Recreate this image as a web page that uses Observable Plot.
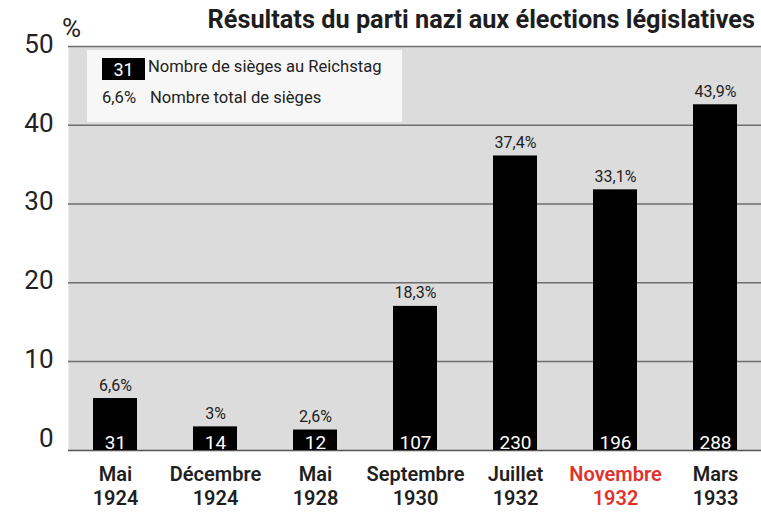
<!DOCTYPE html>
<html>
<head>
<meta charset="utf-8">
<script src="https://cdn.jsdelivr.net/npm/d3@7"></script>
<script src="https://cdn.jsdelivr.net/npm/@observablehq/plot@0.6"></script>
<style>
  html, body { margin: 0; padding: 0; background: #fff; }
  #wrap { position: relative; width: 761px; height: 519px; font-family: Roboto, "Noto Sans", sans-serif; color: #1f1f1f; }
  #wrap svg { position: absolute; left: 0; top: 0; }
  .title { position: absolute; right: 6px; top: 5px; font-size: 25.3px; font-weight: bold; white-space: nowrap; color: #1e1e1e; }
  .pct { position: absolute; left: 62px; top: 13px; font-size: 26px; color: #222; }
  .legend { position: absolute; left: 87px; top: 50px; width: 315px; height: 72px; background: #f7f7f7; }
  .swatch { position: absolute; left: 15px; top: 8px; width: 43px; height: 22px; background: #000; color: #fff; font-size: 18px; line-height: 24px; text-align: center; }
  .lt { position: absolute; font-size: 16.6px; color: #222; white-space: nowrap; }
</style>
</head>
<body>
<div id="wrap"></div>
<script>
const categories = ["Mai 1924", "Décembre 1924", "Mai 1928", "Septembre 1930", "Juillet 1932", "Novembre 1932", "Mars 1933"];
const voteShare = [6.6, 3, 2.6, 18.3, 37.4, 33.1, 43.9];
const seats = [31, 14, 12, 107, 230, 196, 288];
const yTickLabels = [0, 10, 20, 30, 40, 50];
const highlighted = "Novembre 1932";
const titleText = "Résultats du parti nazi aux élections législatives";
const legendSeats = "Nombre de sièges au Reichstag";
const legendShare = "Nombre total de sièges";
const gridShift = 1.3; // the original's grid sits slightly above the bar baseline

const fmtPct = v => String(v).replace(".", ",") + "%";
const data = categories.map((c, i) => ({cat: c, pct: voteShare[i], seats: seats[i]}));

const chart = Plot.plot({
  width: 761,
  height: 519,
  marginTop: 46,
  marginBottom: 69,
  marginLeft: 68,
  marginRight: 0,
  style: {fontFamily: "Roboto, 'Noto Sans', sans-serif", background: "transparent"},
  x: {domain: categories, range: [65, 765], paddingInner: 0.56, paddingOuter: 0.28, axis: null},
  y: {domain: [0, 50 + gridShift], axis: null},
  marks: [
    Plot.frame({fill: "#dcdcdc", stroke: "none"}),
    Plot.ruleY(yTickLabels.filter(t => t > 0), {y: t => t + gridShift, stroke: "#6e6e6e", strokeWidth: 1.6}),
    Plot.ruleY([0], {stroke: "#555", strokeWidth: 1.6}),
    Plot.barY(data, {x: "cat", y: "pct", fill: "#000"}),
    Plot.text(data, {x: "cat", y: "pct", text: d => fmtPct(d.pct), lineAnchor: "bottom", dy: -8, fontSize: 16, fill: "#222"}),
    Plot.text(data, {x: "cat", y: 0, text: d => String(d.seats), lineAnchor: "bottom", dy: -2, fontSize: 19, fill: "#fff"}),
    Plot.text(data, {x: "cat", text: d => d.cat.replace(" ", "\n"), frameAnchor: "bottom", lineAnchor: "top", dy: 13, fontSize: 20, fontWeight: 600, lineHeight: 1.2, fill: d => d.cat === highlighted ? "#e2322b" : "#1f1f1f"}),
    Plot.text(yTickLabels, {y: t => t + gridShift, text: t => String(t), frameAnchor: "left", textAnchor: "end", dx: -15, dy: -2, fontSize: 26, fill: "#222"})
  ]
});

const wrap = document.getElementById("wrap");
wrap.appendChild(chart);

const title = document.createElement("div");
title.className = "title";
title.textContent = titleText;
wrap.appendChild(title);

const pct = document.createElement("div");
pct.className = "pct";
pct.textContent = "%";
wrap.appendChild(pct);

const legend = document.createElement("div");
legend.className = "legend";
legend.innerHTML = `<div class="swatch">${seats[0]}</div>
  <div class="lt" style="left:61px;top:7px;">${legendSeats}</div>
  <div class="lt" style="left:15px;top:38px;">${fmtPct(voteShare[0])}</div>
  <div class="lt" style="left:63px;top:38px;">${legendShare}</div>`;
wrap.appendChild(legend);
</script>
</body>
</html>
